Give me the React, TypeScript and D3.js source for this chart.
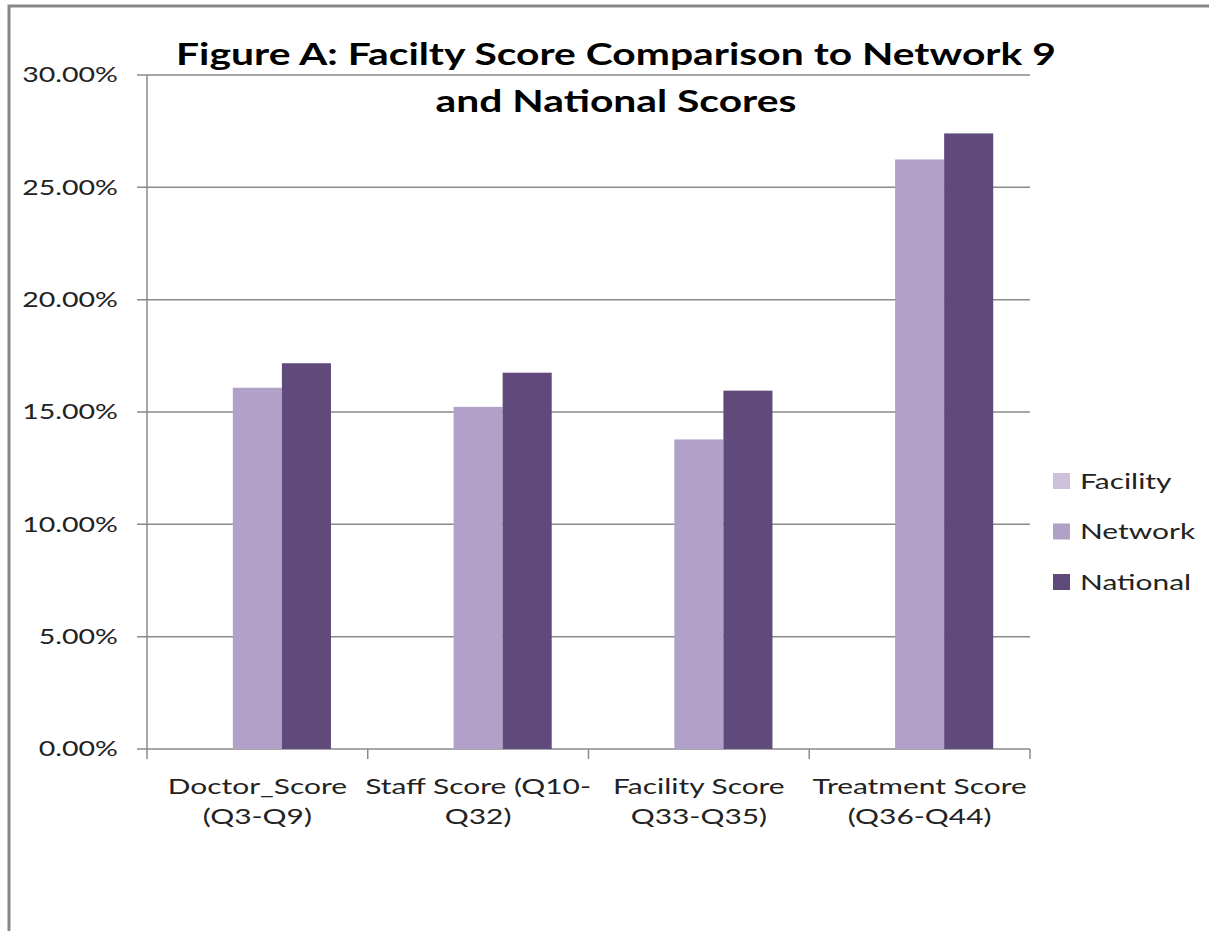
import React from "react";
import * as d3 from "d3";

const categories = [
  ["Doctor_Score", "(Q3-Q9)"],
  ["Staff Score (Q10-", "Q32)"],
  ["Facility Score", "Q33-Q35)"],
  ["Treatment Score", "(Q36-Q44)"],
];
const seriesNames = ["Facility", "Network", "National"];
const seriesColors = ["#CCC0DA", "#B1A0C7", "#604A7B"];
const facility = [0, 0, 0, 0];
const network = [0.1608, 0.1523, 0.1378, 0.2624];
const national = [0.1717, 0.1675, 0.1595, 0.274];
const yTicks = [0, 0.05, 0.1, 0.15, 0.2, 0.25, 0.3];

const W = 1209;
const H = 931;
const plot = { left: 147, right: 1030, top: 75, bottom: 749 };
const font = "Lato, 'Open Sans', sans-serif";
const SX = 1.36; // the source image is stretched horizontally

// text with a horizontal stretch around its anchor point
function Txt({ x, y, anchor = "start", size, weight = "normal", fill = "#222", dy, children }: any) {
  return (
    <g transform={`translate(${x},${y}) scale(${SX},1)`}>
      <text textAnchor={anchor} dy={dy} fontFamily={font} fontSize={size} fontWeight={weight} fill={fill}>
        {children}
      </text>
    </g>
  );
}

export default function App() {
  const x = d3
    .scaleBand()
    .domain(categories.map((_, i) => String(i)))
    .range([plot.left, plot.right]);
  const y = d3.scaleLinear().domain([0, 0.3]).range([plot.bottom, plot.top]);
  // Excel style: gap width 150% -> each bar = band / 4.5
  const bw = x.bandwidth() / 4.5;
  const series = [facility, network, national];
  const fmt = d3.format(".2%");
  const axisColor = "#8a8a8a";

  return (
    <svg
      width={W}
      height={H}
      style={{ position: "fixed", left: 0, top: 0, background: "#fff" }}
    >
      {/* outer frame */}
      <path d={`M9,${H} V6 H${W}`} fill="none" stroke="#878787" strokeWidth={3} />

      {/* gridlines */}
      {yTicks.map((t) => (
        <g key={t}>
          <line
            x1={plot.left - 10}
            x2={plot.right}
            y1={y(t)}
            y2={y(t)}
            stroke={axisColor}
            strokeWidth={1.5}
          />
          <Txt x={118} y={y(t)} dy="0.35em" anchor="end" size={21}>
            {fmt(t)}
          </Txt>
        </g>
      ))}

      {/* y axis */}
      <line x1={plot.left} x2={plot.left} y1={plot.top} y2={plot.bottom + 10} stroke={axisColor} strokeWidth={1.5} />
      {/* x ticks */}
      {categories.map((_, i) => (
        <line
          key={i}
          x1={x(String(i))! + x.bandwidth()}
          x2={x(String(i))! + x.bandwidth()}
          y1={plot.bottom}
          y2={plot.bottom + 10}
          stroke={axisColor}
          strokeWidth={1.5}
        />
      ))}

      {/* bars */}
      {series.map((vals, s) =>
        vals.map((v, i) => (
          <rect
            key={`${s}-${i}`}
            x={x(String(i))! + bw * (0.75 + s)}
            y={y(v)}
            width={bw}
            height={plot.bottom - y(v)}
            fill={seriesColors[s]}
          />
        ))
      )}

      {/* category labels */}
      {categories.map((lines, i) =>
        lines.map((l, j) => (
          <Txt key={`${i}-${j}`} x={x(String(i))! + x.bandwidth() / 2} y={794 + j * 30} anchor="middle" size={22}>
            {l}
          </Txt>
        ))
      )}

      {/* title */}
      <Txt x={616} y={65} anchor="middle" size={30} weight="bold" fill="#000">
        Figure A: Facilty Score Comparison to Network 9
      </Txt>
      <Txt x={616} y={112} anchor="middle" size={30} weight="bold" fill="#000">
        and National Scores
      </Txt>

      {/* legend */}
      {seriesNames.map((n, i) => (
        <g key={n} transform={`translate(1053,${481 + i * 50.5})`}>
          <rect x={0} y={-8} width={17} height={16} fill={seriesColors[i]} />
          <Txt x={27} y={0} dy="0.35em" size={22}>
            {n}
          </Txt>
        </g>
      ))}
    </svg>
  );
}
